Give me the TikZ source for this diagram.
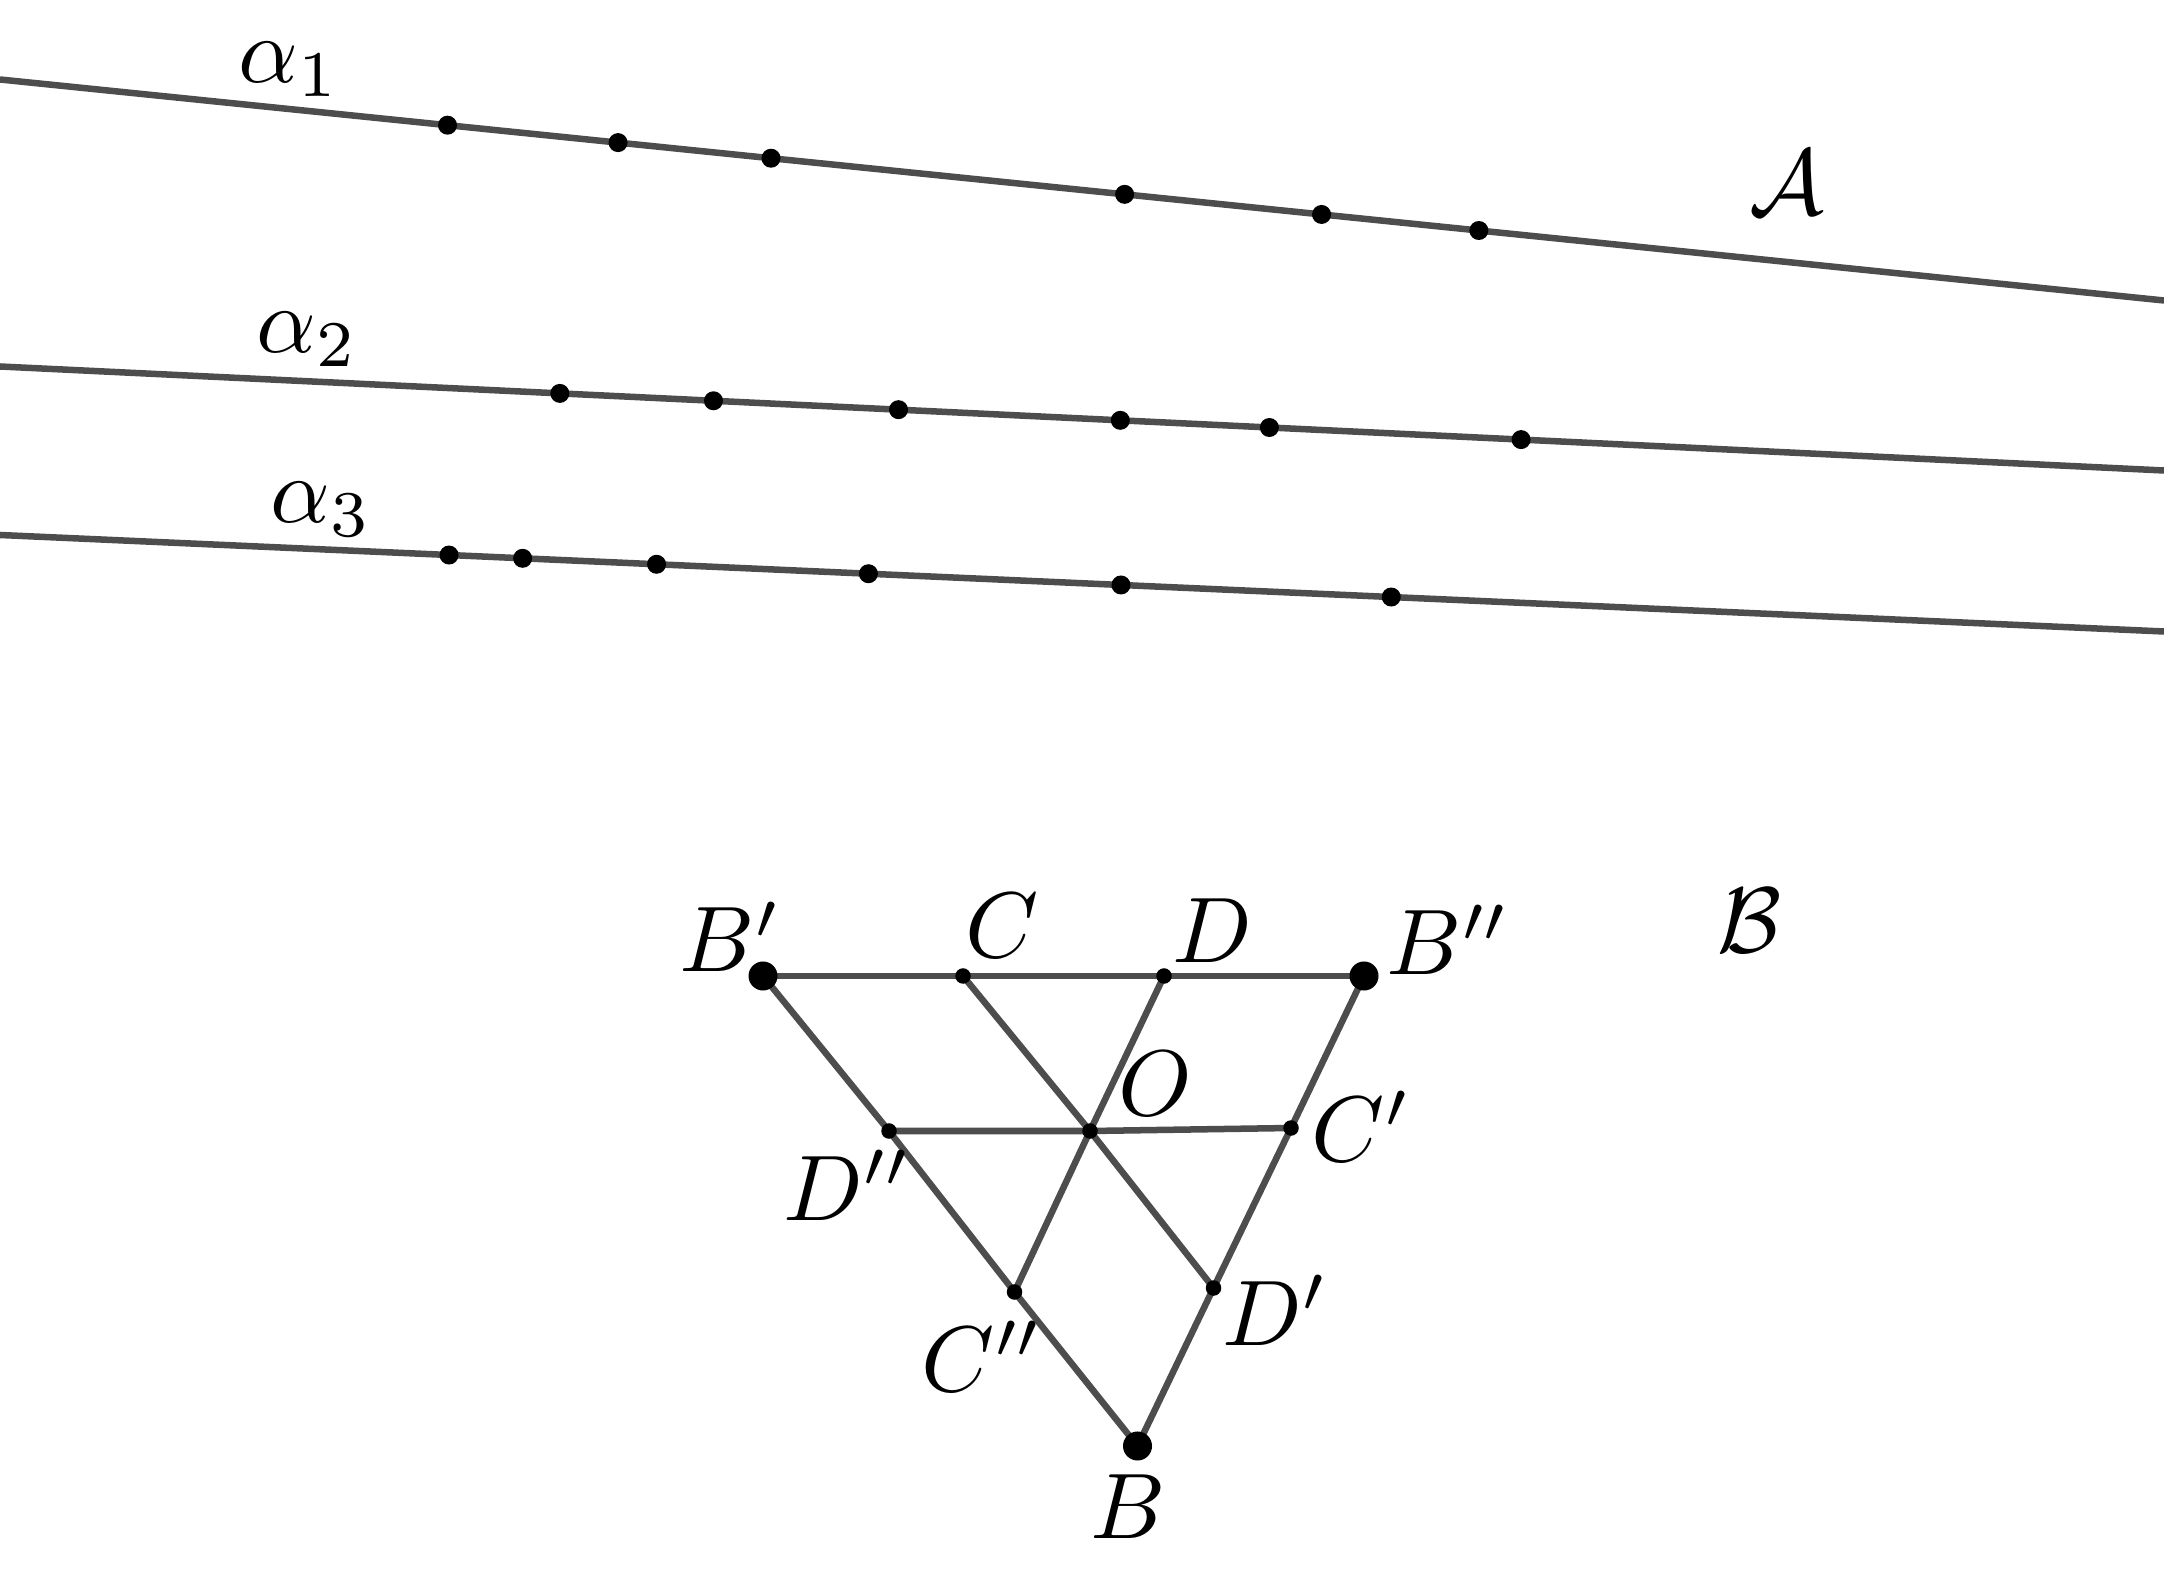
\documentclass[tikz,border=0pt]{standalone}
\begin{document}
\begin{tikzpicture}[x=0.01cm,y=-0.01cm,
  ln/.style={draw=lncol,line width=1.85pt},
  dot/.style={circle,fill=black,inner sep=0pt,minimum size=1.9mm},
  sdot/.style={circle,fill=black,inner sep=0pt,minimum size=1.55mm},
  bdot/.style={circle,fill=black,inner sep=0pt,minimum size=2.9mm},
  lbl/.style={inner sep=0pt,anchor=base west,scale=2.65}]
\definecolor{lncol}{RGB}{77,77,77}
\useasboundingbox (0,0) rectangle (2164,1577);
% top family of lines
\coordinate (L1a) at (0,79.5);   \coordinate (L1b) at (2164,300.5);
\coordinate (L2a) at (0,366.5);  \coordinate (L2b) at (2164,470.5);
\coordinate (L3a) at (0,535);    \coordinate (L3b) at (2164,631.5);
\draw[ln] (L1a) -- (L1b)
  coordinate[pos=0.2068] (p11) coordinate[pos=0.2856] (p12) coordinate[pos=0.3563] (p13)
  coordinate[pos=0.5197] (p14) coordinate[pos=0.6107] (p15) coordinate[pos=0.6834] (p16);
\draw[ln] (L2a) -- (L2b)
  coordinate[pos=0.2587] (p21) coordinate[pos=0.3297] (p22) coordinate[pos=0.4152] (p23)
  coordinate[pos=0.5177] (p24) coordinate[pos=0.5866] (p25) coordinate[pos=0.7029] (p26);
\draw[ln] (L3a) -- (L3b)
  coordinate[pos=0.2075] (p31) coordinate[pos=0.2415] (p32) coordinate[pos=0.3034] (p33)
  coordinate[pos=0.4013] (p34) coordinate[pos=0.5180] (p35) coordinate[pos=0.6429] (p36);
\foreach \i in {1,2,3}{\foreach \j in {1,...,6}{\node[dot] (d\i\j) at (p\i\j) {};}}
\node[lbl] (a1) at (237,83) {$\alpha_1$};
\node[lbl] (a2) at (255,353) {$\alpha_2$};
\node[lbl] (a3) at (269,523) {$\alpha_3$};
\node[lbl] (calA) at (1748,215) {$\mathcal{A}$};
% bottom figure
\coordinate (Bp) at (763,976);
\coordinate (Bpp) at (1364,976);
\coordinate (B) at (1137.5,1446);
\coordinate (C) at (963,976);
\coordinate (D) at (1164,976);
\coordinate (Dpp) at (889,1131);
\coordinate (O) at (1090,1131);
\coordinate (Cp) at (1291,1128);
\coordinate (Cpp) at (1014.5,1292);
\coordinate (Dp) at (1213.5,1288);
\draw[ln] (Bp) -- (Bpp);
\draw[ln] (Bp) -- (Dpp) -- (Cpp) -- (B);
\draw[ln] (Bpp) -- (Cp) -- (Dp) -- (B);
\draw[ln] (C) -- (O) -- (Dp);
\draw[ln] (D) -- (O) -- (Cpp);
\draw[ln] (Dpp) -- (O) -- (Cp);
\node[bdot] (nBp) at (Bp) {};
\node[bdot] (nBpp) at (Bpp) {};
\node[bdot] (nB) at (B) {};
\foreach \p in {C,D,Dpp,Cpp,Cp,Dp,O}{\node[sdot] (n\p) at (\p) {};}
\node[lbl] (tBp) at (678,972) {$B'$};
\node[lbl] (tC) at (964,958) {$C$};
\node[lbl] (tD) at (1171,963) {$D$};
\node[lbl] (tBpp) at (1385,975) {$B''$};
\node[lbl] (tO) at (1117,1115) {$O$};
\node[lbl] (tCp) at (1310,1161) {$C'$};
\node[lbl] (tDpp) at (782,1220) {$D''$};
\node[lbl] (tCpp) at (920,1391) {$C''$};
\node[lbl] (tDp) at (1221,1345) {$D'$};
\node[lbl] (tB) at (1089,1538) {$B$};
\node[lbl] (calB) at (1716,953) {$\mathcal{B}$};
\end{tikzpicture}
\end{document}
